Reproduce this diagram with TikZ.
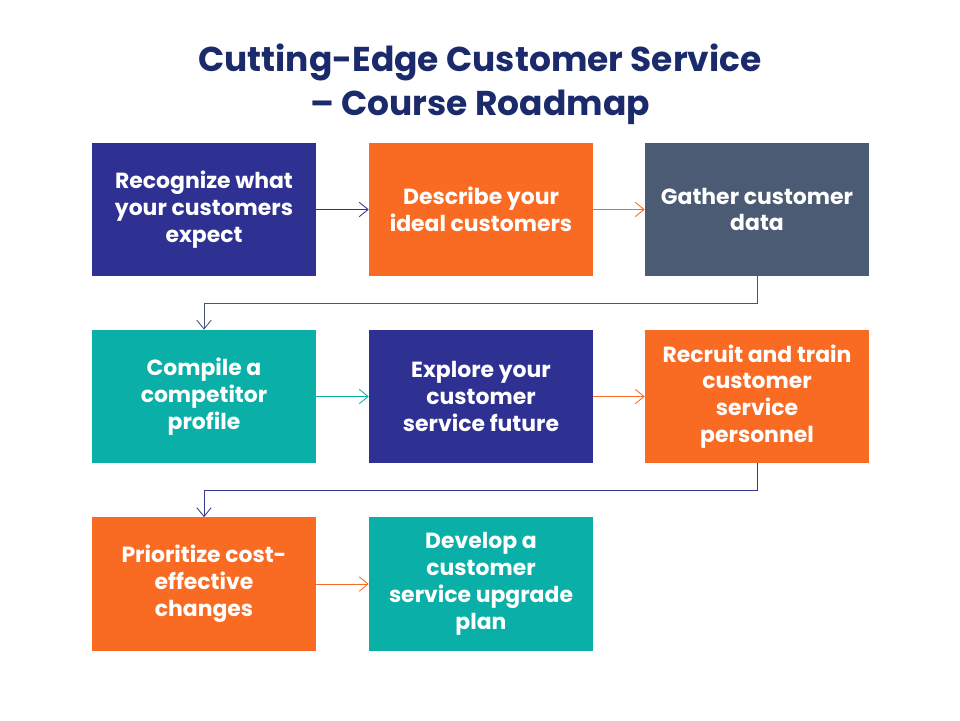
\documentclass[tikz,border=0pt]{standalone}
\usepackage{fontspec}
\setmainfont{Poppins}
\usetikzlibrary{arrows.meta}

\definecolor{navy}{HTML}{2E3192}
\definecolor{orng}{HTML}{F96A22}
\definecolor{slate}{HTML}{4A5B73}
\definecolor{teal}{HTML}{0AB0A8}
\definecolor{ttl}{HTML}{1B2A6B}

\begin{document}
\begin{tikzpicture}[
    box/.style={minimum width=5.6cm, minimum height=3.33cm, inner sep=0pt,
      align=center, text=white, font=\fontsize{15.6}{19.1}\selectfont\bfseries},
    link/.style={-{Straight Barb[length=2.2mm,width=3.6mm]}, line width=0.6pt}]
    \useasboundingbox (0,0) rectangle (24,-18);

    \node[text=ttl, align=center, font=\fontsize{24.5}{31}\selectfont\bfseries] (T) at (12,-2.1)
      {Cutting-Edge Customer Service\\– Course Roadmap};

    \node[box, fill=navy] (REC) at (5.1,-5.2375) {Recognize what\\your customers\\expect};
    \node[box, fill=orng] (DES) at (12.025,-5.2375) {Describe your\\ideal customers};
    \node[box, fill=slate] (GAT) at (18.925,-5.2375) {Gather customer\\data};
    \node[box, fill=teal] (COM) at (5.1,-9.9125) {Compile a\\competitor\\profile};
    \node[box, fill=navy] (EXP) at (12.025,-9.9125) {Explore your\\customer\\service future};
    \node[box, fill=orng] (RCT) at (18.925,-9.9125) {Recruit and train\\customer\\service\\personnel};
    \node[box, fill=orng] (PRI) at (5.1,-14.6) {Prioritize cost-\\effective\\changes};
    \node[box, fill=teal] (DEV) at (12.025,-14.6) {Develop a\\customer\\service upgrade\\plan};

    \draw [link, navy] (REC) to (DES);
    \draw [link, orng] (DES) to (GAT);
    \draw [link, slate!80!navy] (GAT.south) |- (5.1,-7.575) -- (COM.north);
    \draw [link, teal] (COM) to (EXP);
    \draw [link, orng] (EXP) to (RCT);
    \draw [link, navy!80!slate] (RCT.south) |- (5.1,-12.25) -- (PRI.north);
    \draw [link, orng] (PRI) to (DEV);
  \end{tikzpicture}
\end{document}
